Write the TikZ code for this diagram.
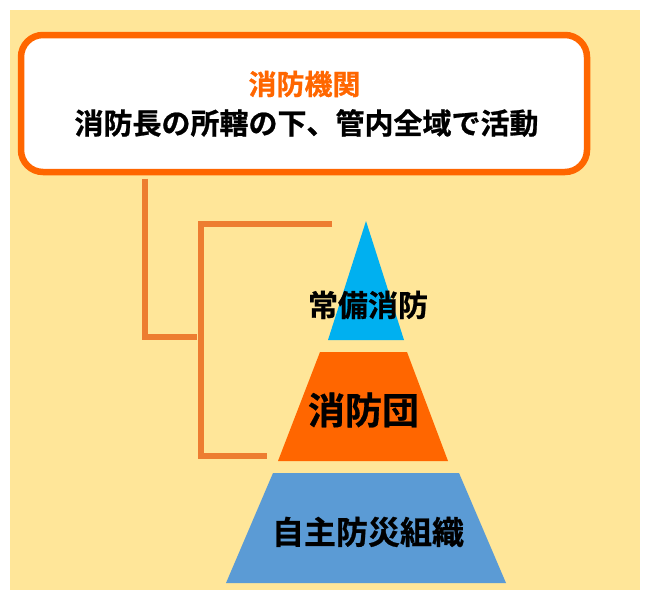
\documentclass[tikz,border=0pt]{standalone}
\usepackage{fontspec}
\setmainfont{Noto Sans CJK JP Bold}[FakeBold=0.8]
\definecolor{bgyellow}{HTML}{FFE699}
\definecolor{boxorange}{HTML}{FF6600}
\definecolor{lineorange}{HTML}{ED7D31}
\definecolor{topcyan}{HTML}{00B0F0}
\definecolor{botblue}{HTML}{5B9BD5}
\begin{document}
\begin{tikzpicture}[x=1pt,y=-1pt,
  linkline/.style={draw=lineorange,line width=6pt},
  lbl/.style={inner sep=0pt,text=black}]
\useasboundingbox (0,0) rectangle (645,592);
\fill[bgyellow] (10,10) rectangle (640,590);
% top box
\node[draw=boxorange,fill=white,line width=6.5pt,rounded corners=22pt,
      minimum width=566pt,minimum height=137pt,inner sep=0pt] (box) at (304,103.5) {};
\node[lbl,text=boxorange,font=\fontsize{28}{30}\selectfont] (title) at (304.5,84) {消防機関};
\node[lbl,font=\fontsize{29}{31}\selectfont] (sub) at (306.5,123) {消防長の所轄の下、管内全域で活動};
% pyramid
\fill[topcyan] (366,221) -- (404,340) -- (328,340) -- cycle;
\fill[boxorange] (320,352) -- (407,352) -- (448,461) -- (278,461) -- cycle;
\fill[botblue] (273,473) -- (459,473) -- (506,583) -- (226,583) -- cycle;
\node[lbl,font=\fontsize{30}{32}\selectfont] (jobi) at (368,305) {常備消防};
\node[lbl,font=\fontsize{37}{39}\selectfont] (dan) at (363.5,410) {消防団};
\node[lbl,font=\fontsize{32}{34}\selectfont] (jishu) at (368,532) {自主防災組織};
% connectors
\coordinate (c1a) at (145,337);
\coordinate (c1b) at (197,337);
\coordinate (c2a) at (332,223.5);
\coordinate (c2b) at (201,223.5);
\coordinate (c2c) at (201,456);
\coordinate (c2d) at (267,456);
\draw[linkline] (box.south -| c1a) ++(0,3.25) -- (c1a) -- (c1b);
\draw[linkline] (c2a) -- (c2b) -- (c2c) -- (c2d);
\end{tikzpicture}
\end{document}
